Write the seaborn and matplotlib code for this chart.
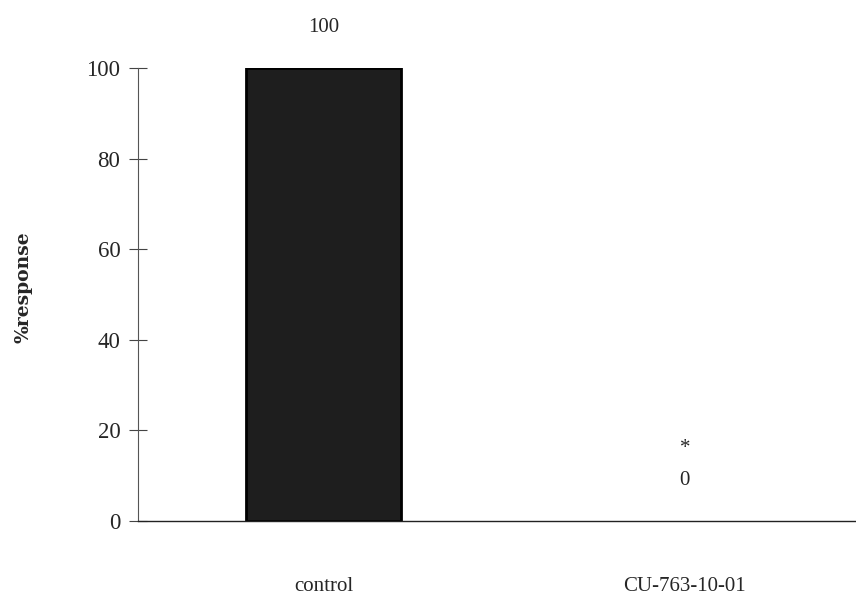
import matplotlib
matplotlib.use("Agg")
import matplotlib.pyplot as plt
import seaborn as sns
import pandas as pd

# Data
categories = ["control", "CU-763-10-01"]
responses = [100, 0]
value_labels = ["100", "0"]
significance = ["", "*"]

sns.set_theme(style="white")
plt.rcParams["font.family"] = ["Liberation Serif", "DejaVu Serif"]

df = pd.DataFrame({"group": categories, "response": responses})

fig = plt.figure(figsize=(8.56, 6.09), dpi=100)
ax = fig.add_axes([0.161, 0.1445, 0.839, 0.7435])

sns.barplot(data=df, x="group", y="response", ax=ax, color="#1e1e1e",
            width=0.43, edgecolor="black", linewidth=2, saturation=1)

# an empty bar leaves no outline on the baseline
for patch in ax.patches:
    if patch.get_height() == 0:
        patch.set_linewidth(0)

ax.set_ylim(0, 100)
ax.set_xlim(-0.515, 1.474)
ax.set_yticks([0, 20, 40, 60, 80, 100])
ax.tick_params(axis="y", direction="inout", length=13, width=0.8,
               color="#444444", labelsize=16.5, pad=6, left=True)
ax.tick_params(axis="x", length=0, labelsize=15, pad=40)

for side in ("top", "right"):
    ax.spines[side].set_visible(False)
ax.spines["left"].set_color("#555555")
ax.spines["left"].set_linewidth(0.8)
ax.spines["bottom"].set_color("#222222")
ax.spines["bottom"].set_linewidth(1.0)

ax.set_xlabel("")
ax.set_ylabel("%response", fontsize=13.5, fontweight="bold",
              family=["DejaVu Serif"])
ax.yaxis.set_label_coords(-0.146, 0.517)

# Value labels above each bar, with the significance marker
for i, (v, lab, sig) in enumerate(zip(responses, value_labels, significance)):
    ax.annotate(lab, xy=(i, v), xytext=(0, 29), textcoords="offset points",
                ha="center", va="center", fontsize=15, annotation_clip=False)
    if sig:
        ax.annotate(sig, xy=(i, v), xytext=(0, 52), textcoords="offset points",
                    ha="center", va="center", fontsize=15, annotation_clip=False)

fig.savefig("out.png", dpi=100, facecolor="white")
